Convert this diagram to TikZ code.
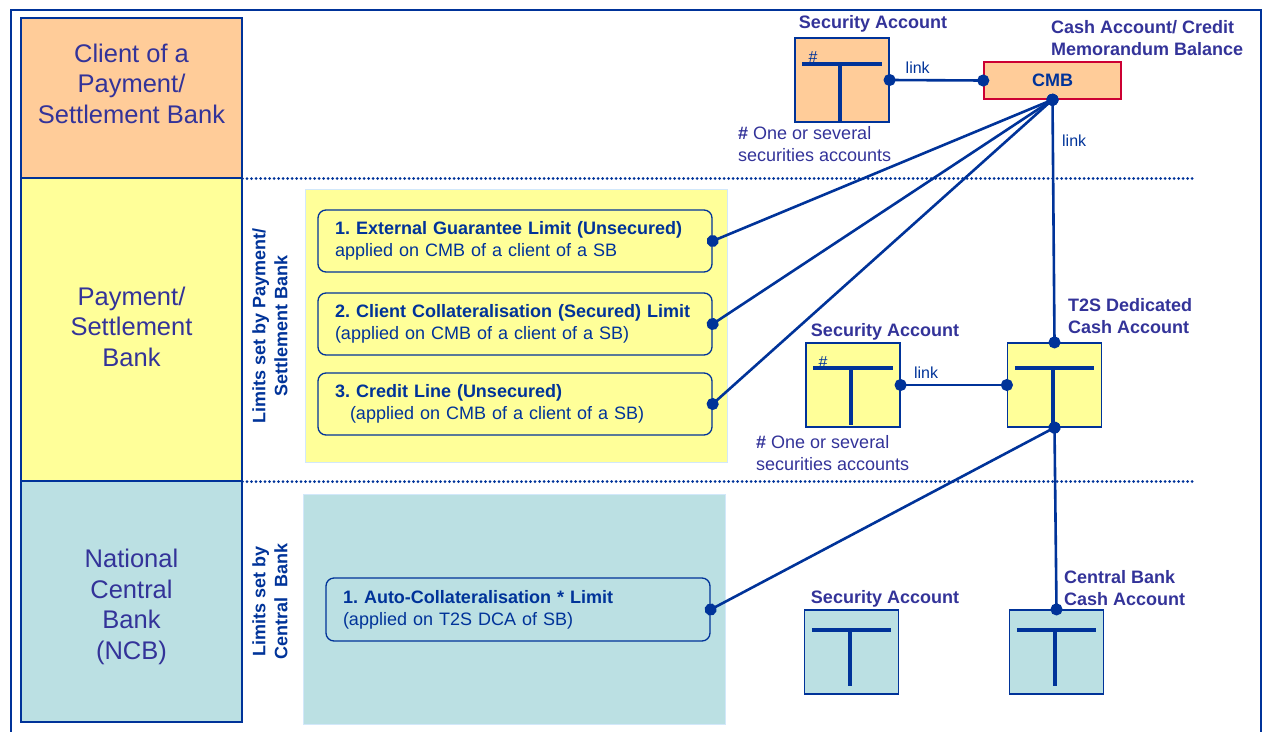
\documentclass[tikz,border=0pt]{standalone}
\usepackage{fontspec}
\setmainfont{Liberation Sans}
\frenchspacing
\usetikzlibrary{arrows.meta,positioning,calc}
\definecolor{navy}{RGB}{0,51,153}
\definecolor{txtblue}{RGB}{51,51,153}
\definecolor{clientorange}{RGB}{255,204,153}
\definecolor{bankyellow}{RGB}{255,255,153}
\definecolor{ncbteal}{RGB}{187,224,227}
\definecolor{cmbred}{RGB}{204,0,51}
\definecolor{panelline}{RGB}{210,232,250}
\tikzstyle{lane} = [rectangle, draw=navy, line width=1.2pt, minimum width=221pt, inner sep=0pt]
\tikzstyle{lanetext} = [text=txtblue, align=center, inner sep=0pt, font=\fontsize{25.5}{30.5}\selectfont]
\tikzstyle{panel} = [rectangle, draw=panelline, line width=1pt, inner sep=0pt]
\tikzstyle{limit} = [rectangle, rounded corners=8pt, draw=navy, line width=1.3pt, text=navy, align=left, inner xsep=17pt, font=\fontsize{18}{22}\selectfont]
\tikzstyle{acct} = [rectangle, draw=navy, line width=1.2pt, minimum width=94pt, minimum height=84pt, inner sep=0pt]
\tikzstyle{acctlabel} = [text=txtblue, align=left, inner sep=0pt, font=\bfseries\fontsize{18}{22}\selectfont]
\tikzstyle{note} = [text=txtblue, align=left, inner sep=0pt, font=\fontsize{18}{22}\selectfont]
\tikzstyle{linklabel} = [text=navy, inner sep=0pt, font=\fontsize{16}{18}\selectfont]
\tikzstyle{sidelabel} = [text=navy, rotate=90, align=center, inner sep=0pt, font=\bfseries\fontsize{18}{22}\selectfont]
\tikzstyle{sep} = [draw=navy, line width=3pt, line cap=round, dash pattern=on 0pt off 4.5pt]
\tikzstyle{tbar} = [draw=navy, line width=4pt]
\tikzstyle{tedge} = [draw=navy, line width=2.6pt, {Circle[length=12pt]}-{Circle[length=12pt]}, shorten <=-6pt, shorten >=-6pt]
\newcommand{\tsym}[3]{%
  \draw[tbar] ([xshift=8pt,yshift=-#2]#1.north west) -- ([xshift=-8pt,yshift=-#2]#1.north east);
  \draw[tbar] ([xshift=-2pt,yshift=-#2]#1.north) -- ([xshift=-2pt,yshift=#3]#1.south);}

\begin{document}
\begin{tikzpicture}[x=1pt,y=-1pt]
\useasboundingbox (0,0) rectangle (1266,731);

% frame =============================
\draw[navy, line width=2.5pt] (11,10) rectangle (1261,745);

% lanes
\node[lane, fill=clientorange, minimum height=160pt] (client) at (131.5,98) {};
\node[lane, fill=bankyellow, minimum height=303pt] (bank) at (131.5,329.5) {};
\node[lane, fill=ncbteal, minimum height=241pt] (ncb) at (131.5,601.5) {};
\node[lanetext, anchor=base] (clienttext) at (131.5,123) {Client of a\\Payment/\\Settlement Bank};
\node[lanetext, anchor=base] (banktext) at (131.5,366) {Payment/\\Settlement\\Bank};
\node[lanetext, anchor=base] (ncbtext) at (131.5,659) {National\\Central\\Bank\\(NCB)};

\path[sep] (client.south east) -- ++(953,0);
\path[sep] (bank.south east) -- ++(953,0);

% limits set by the bank
\node[panel, fill=bankyellow, minimum width=422pt, minimum height=273pt] (sbpanel) at (516,325.5) {};
\node[sidelabel] (sblabel) at (270,326) {Limits set by Payment/\\Settlement Bank};
\node[limit, fill=bankyellow, minimum width=394pt, minimum height=62pt, text width=360pt] (lim1) at (515,241)
  {\textbf{1. External Guarantee Limit (Unsecured)}\\applied on CMB of a client of a SB};
\node[limit, fill=bankyellow, minimum width=394pt, minimum height=62pt, text width=360pt] (lim2) at (515,324)
  {\textbf{2. Client Collateralisation (Secured) Limit}\\(applied on CMB of a client of a SB)};
\node[limit, fill=bankyellow, minimum width=394pt, minimum height=62pt, text width=360pt] (lim3) at (515,404)
  {\textbf{3. Credit Line (Unsecured)}\\\hspace*{15pt}(applied on CMB of a client of a SB)};

% limits set by the central bank
\node[panel, fill=ncbteal, minimum width=422pt, minimum height=230pt] (ncbpanel) at (514,609) {};
\node[sidelabel] (ncblabel) at (270,601) {Limits set by\\Central~~Bank};
\node[limit, fill=ncbteal, minimum width=384pt, minimum height=63pt, text width=350pt] (autolim) at (518,609.5)
  {\textbf{1. Auto-Collateralisation * Limit}\\(applied on T2S DCA of SB)};

% accounts
\node[acct, fill=clientorange] (secA) at (842,80) {};
\node[rectangle, draw=cmbred, line width=1.5pt, fill=clientorange, minimum width=137pt, minimum height=37pt,
  text=navy, font=\bfseries\fontsize{18}{22}\selectfont] (cmb) at (1052.5,80.5) {CMB};
\node[acct, fill=bankyellow] (secB) at (853,385) {};
\node[acct, fill=bankyellow] (dca) at (1054.5,385) {};
\node[acct, fill=ncbteal] (secC) at (851.5,652) {};
\node[acct, fill=ncbteal] (cbca) at (1056.5,652) {};

\tsym{secA}{27pt}{2pt}
\tsym{secB}{26pt}{3pt}
\tsym{dca}{26pt}{2pt}
\tsym{secC}{21pt}{9pt}
\tsym{cbca}{21pt}{9pt}
\node[linklabel, anchor=base] (hashA) at (813,62) {\#};
\node[linklabel, anchor=base] (hashB) at (823,367) {\#};

% labels
\node[acctlabel, anchor=base] (secAlabel) at (873,28) {Security Account};
\node[acctlabel, anchor=base west] (cmblabel) at (1051,55) {Cash Account/ Credit\\Memorandum Balance};
\node[note, anchor=base west] (noteA) at (738,161) {\textbf{\#} One or several\\securities accounts};
\node[acctlabel, anchor=base] (secBlabel) at (885,336) {Security Account};
\node[acctlabel, anchor=base west] (dcalabel) at (1068,333) {T2S Dedicated\\Cash Account};
\node[note, anchor=base west] (noteB) at (756,470) {\textbf{\#} One or several\\securities accounts};
\node[acctlabel, anchor=base] (secClabel) at (885,603) {Security Account};
\node[acctlabel, anchor=base west] (cbcalabel) at (1064,605) {Central Bank\\Cash Account};

%edges
\path[tedge] (secA.east) -- node[linklabel, above=5pt, pos=0.3] (linkA) {link} (cmb.west);
\path[tedge] (secB.east) -- node[linklabel, above=5pt, pos=0.24] (linkB) {link} (dca.west);
\path[tedge] (cmb.south) -- node[linklabel, right=8pt, pos=0.17] (linkC) {link} (dca.north);
\path[tedge] (cmb.south) -- (lim1.east);
\path[tedge] (cmb.south) -- (lim2.east);
\path[tedge] (cmb.south) -- (lim3.east);
\path[tedge] (dca.south) -- (autolim.east);
\path[tedge] (dca.south) -- (cbca.north);

\end{tikzpicture}
\end{document}
